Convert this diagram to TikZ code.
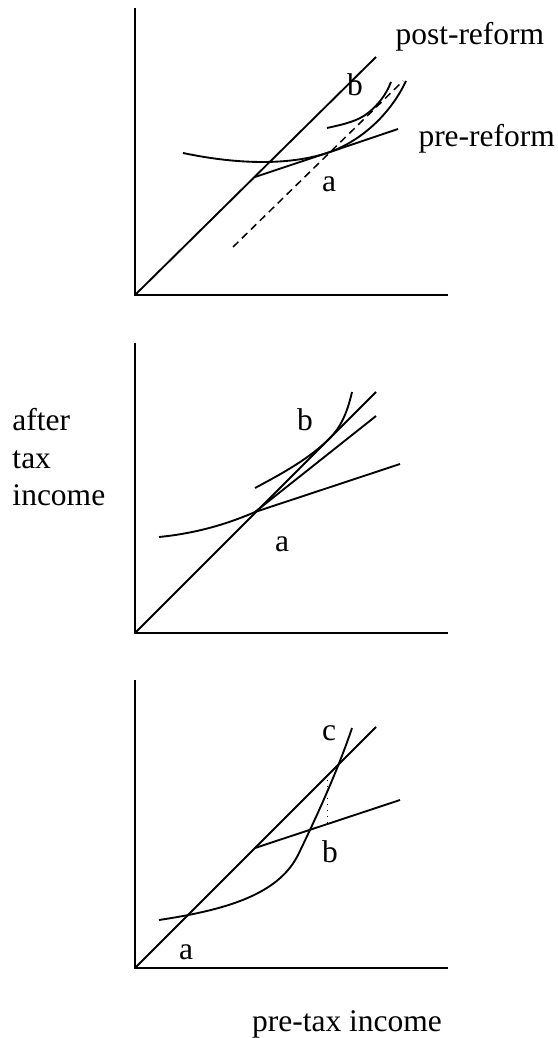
\documentclass[tikz,border=0pt]{standalone}
\usepackage{fontspec}
\setmainfont{Liberation Serif}
\usetikzlibrary{positioning}

\begin{document}
\begin{tikzpicture}[
    x=0.4pt, y=-0.4pt,
    every node/.style={font=\fontsize{12.6}{15}\selectfont, inner sep=0pt},
    lbl/.style={anchor=base},
    axisline/.style={line width=0.75pt},
    schedule/.style={line width=0.75pt},
    indiff/.style={line width=0.75pt},
    shifted/.style={line width=0.6pt, dash pattern=on 3pt off 2pt},
    gap/.style={line width=0.4pt, dotted}
]
\useasboundingbox (0,0) rectangle (558,1038);

% top panel
\coordinate (o1) at (135,295);
\coordinate (k1) at (255,177);
\coordinate (a1) at (327,153);
\draw[axisline] (135,8) -- (o1) -- (448,295);
\draw[schedule] (o1) -- (376,57);
\draw[schedule] (k1) -- (a1) -- (398,129);
\draw[shifted] (233,247) -- (403,81);
\draw[indiff] (183,153) .. controls (240,165) and (290,165) .. (a1)
    .. controls (360,142) and (390,115) .. (406,81);
\draw[indiff] (327,128) .. controls (345,124) and (358,121) .. (368,113)
    .. controls (378,105) and (386,95) .. (391,82);
\node[lbl, anchor=base west] (post) at (395,45) {post-reform};
\node[lbl, anchor=base west] (pre) at (418,147) {pre-reform};
\node[lbl] (la1) at (329,192) {a};
\node[lbl] (lb1) at (355,96) {b};

% middle panel
\coordinate (o2) at (135,633);
\coordinate (a2) at (255,512);
\draw[axisline] (135,343) -- (o2) -- (448,633);
\draw[schedule] (o2) -- (376,392);
\draw[schedule] (a2) -- (400,464);
\draw[schedule] (a2) -- (376,416);
\draw[indiff] (159,537) .. controls (200,533) and (232,522) .. (a2);
\draw[indiff] (255,488) .. controls (285,472) and (310,458) .. (330,438)
    .. controls (340,428) and (347,414) .. (352,392);
\node[lbl] (lb2) at (305,430) {b};
\node[lbl] (la2) at (282,551) {a};
\node[anchor=north west, align=left] (ylab) at (12,408) {after\\tax\\income};

% bottom panel
\coordinate (o3) at (135,968);
\coordinate (k3) at (255,848);
\coordinate (c3) at (327,774);
\coordinate (b3) at (327,824);
\draw[axisline] (135,680) -- (o3) -- (448,968);
\draw[schedule] (o3) -- (376,727);
\draw[schedule] (k3) -- (400,800);
\draw[indiff] (159,920) .. controls (225,910) and (278,895) .. (298,855)
    .. controls (316,818) and (338,770) .. (352,728);
\draw[gap] (c3) -- (b3);
\node[lbl] (lc3) at (329,740) {c};
\node[lbl] (lb3) at (330,862) {b};
\node[lbl] (la3) at (186,959) {a};
\node[lbl] (xlab) at (347,1031) {pre-tax income};
\end{tikzpicture}
\end{document}
